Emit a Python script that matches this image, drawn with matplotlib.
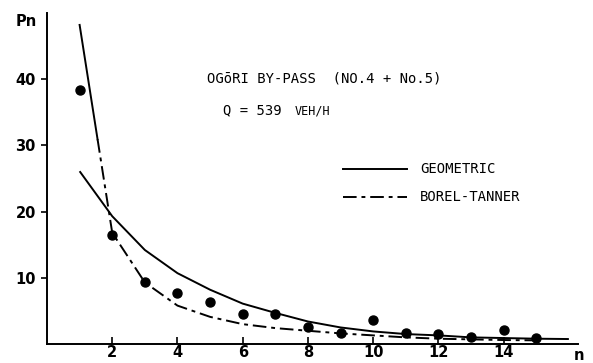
import numpy as np
import matplotlib
matplotlib.use("Agg")
import matplotlib.pyplot as plt
from matplotlib.lines import Line2D

# Observed points
n_obs = [1, 2, 3, 4, 5, 6, 7, 8, 9, 10, 11, 12, 13, 14, 15]
p_obs = [38.3, 16.5, 9.3, 7.7, 6.4, 4.6, 4.5, 2.6, 1.6, 3.7, 1.6, 1.5, 1.0, 2.1, 0.95]

# Geometric curve
n_geo = [1, 2, 3, 4, 5, 6, 7, 8, 9, 10, 11, 12, 13, 14, 15, 16]
p_geo = [26.1, 19.3, 14.2, 10.7, 8.2, 6.1, 4.7, 3.4, 2.5, 1.9, 1.5, 1.3, 1.0, 0.9, 0.8, 0.75]

# Borel-Tanner curve
n_bt = [1, 2, 3, 4, 5, 6, 7, 8, 9, 10, 11, 12, 13, 14, 15]
p_bt = [48.2, 16.8, 9.3, 5.8, 4.1, 3.0, 2.4, 2.0, 1.6, 1.3, 1.0, 0.8, 0.7, 0.6, 0.55]

x_ticks = [2, 4, 6, 8, 10, 12, 14]
y_ticks = [10, 20, 30, 40]

W, H = 593, 363
fig = plt.figure(figsize=(W / 100, H / 100), dpi=100)
L, R, T, B = 47, 578, 13, 344
ax = fig.add_axes([L / W, (H - B) / H, (R - L) / W, (B - T) / H])

lw = 1.4
dash = (0, (7, 2.5, 2, 2.5))
ax.plot(n_geo, p_geo, color="black", lw=lw, solid_capstyle="butt")
# Borel-Tanner: solid start then dash-dot
x_s = np.linspace(1, 1.55, 20)
ax.plot(x_s, np.interp(x_s, n_bt, p_bt), color="black", lw=lw)
ax.plot([1.55] + n_bt[1:], [np.interp(1.55, n_bt, p_bt)] + p_bt[1:], color="black",
        lw=lw, linestyle=dash)
ax.plot(n_obs, p_obs, "o", color="black", markersize=6.5)

ax.set_xlim(0, 16.28)
ax.set_ylim(0, 50)
for s in ["top", "right"]:
    ax.spines[s].set_visible(False)
for s in ["left", "bottom"]:
    ax.spines[s].set_linewidth(1.4)

tick_font = dict(fontsize=10.5, fontweight="bold", family="DejaVu Sans")
ax.set_xticks(x_ticks)
ax.set_xticklabels([str(v) for v in x_ticks], **tick_font)
ax.set_yticks(y_ticks)
ax.set_yticklabels([str(v) for v in y_ticks], **tick_font)
ax.tick_params(axis="x", direction="in", length=5, width=1.2, pad=1)
ax.tick_params(axis="y", direction="out", length=4, width=1.2, pad=4)

fig.text(579 / W, 1 - 355 / H, "n", ha="center", va="center", **tick_font)
fig.text(26 / W, 1 - 21 / H, "Pn", ha="center", va="center", **tick_font)

mono = dict(family="DejaVu Sans Mono", color="black")
fig.text(207 / W, 1 - 79 / H, "OGōRI BY-PASS  (NO.4 + No.5)", ha="left", va="center",
         fontsize=10, **mono)
fig.text(223 / W, 1 - 110 / H, "Q = 539", ha="left", va="center", fontsize=10, **mono)
fig.text(295 / W, 1 - 111 / H, "VEH/H", ha="left", va="center", fontsize=8.5, **mono)

fig.add_artist(Line2D([343 / W, 407 / W], [1 - 169 / H, 1 - 169 / H], color="black",
                      lw=lw, transform=fig.transFigure))
fig.add_artist(Line2D([343 / W, 407 / W], [1 - 197 / H, 1 - 197 / H], color="black",
                      lw=lw, linestyle=dash, transform=fig.transFigure))
fig.text(420 / W, 1 - 169 / H, "GEOMETRIC", ha="left", va="center", fontsize=10, **mono)
fig.text(420 / W, 1 - 197 / H, "BOREL-TANNER", ha="left", va="center", fontsize=10, **mono)

fig.savefig("out.png", dpi=100)
